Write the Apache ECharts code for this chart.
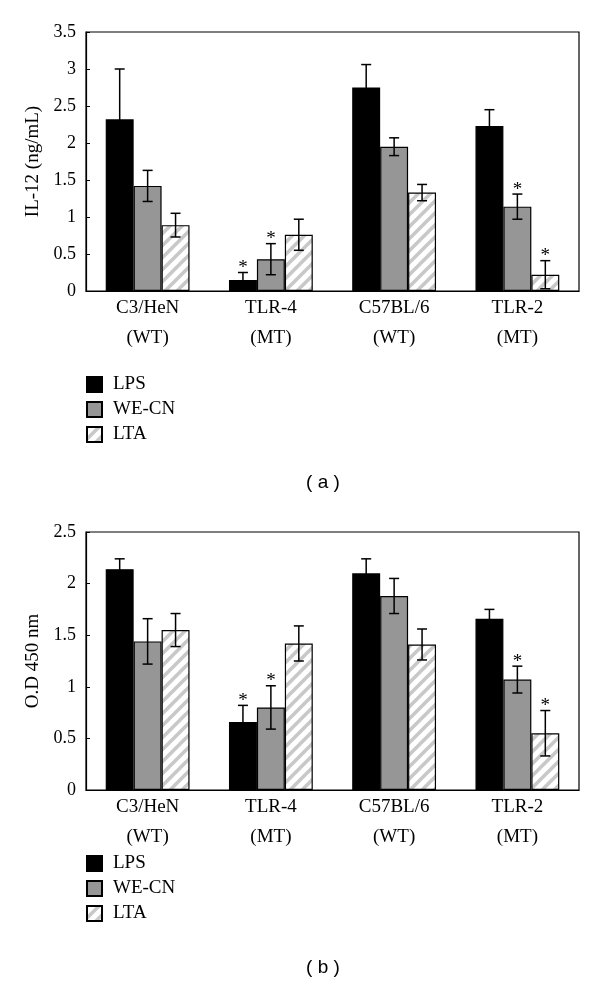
<!DOCTYPE html>
<html><head><meta charset="utf-8">
<script src="https://cdn.jsdelivr.net/npm/echarts@6/dist/echarts.min.js"></script>
<style>html,body{margin:0;padding:0;background:#fff}#c{width:600px;height:1000px}</style>
</head><body><div id="c"></div>
<script>
const categories = ['C3/HeN\n(WT)', 'TLR-4\n(MT)', 'C57BL/6\n(WT)', 'TLR-2\n(MT)'];
const seriesNames = ['LPS', 'WE-CN', 'LTA'];
// Panel (a): IL-12 (ng/mL)
const il12LPS = [2.32, 0.15, 2.75, 2.23];
const il12LPSErr = [0.68, 0.10, 0.31, 0.22];
const il12WE = [1.42, 0.43, 1.95, 1.14];
const il12WEErr = [0.21, 0.21, 0.12, 0.17];
const il12LTA = [0.89, 0.76, 1.33, 0.22];
const il12LTAErr = [0.16, 0.21, 0.11, 0.19];
const il12SigLPS = [0, 1, 0, 0];
const il12SigWE = [0, 1, 0, 1];
const il12SigLTA = [0, 0, 0, 1];
// Panel (b): O.D 450 nm
const odLPS = [2.14, 0.66, 2.10, 1.66];
const odLPSErr = [0.10, 0.16, 0.14, 0.09];
const odWE = [1.44, 0.80, 1.88, 1.07];
const odWEErr = [0.22, 0.21, 0.17, 0.13];
const odLTA = [1.55, 1.42, 1.41, 0.55];
const odLTAErr = [0.16, 0.17, 0.15, 0.22];
const odSigLPS = [0, 1, 0, 0];
const odSigWE = [0, 1, 0, 1];
const odSigLTA = [0, 0, 0, 1];

// hatch pattern
const pc = document.createElement('canvas');
pc.width = 12; pc.height = 12;
const g = pc.getContext('2d');
g.fillStyle = '#fff'; g.fillRect(0, 0, 12, 12);
g.strokeStyle = '#c8c8c8'; g.lineWidth = 3.5;
[[-6, 6, 6, -6], [0, 12, 12, 0], [6, 18, 18, 6]].forEach(function (l) {
  g.beginPath(); g.moveTo(l[0], l[1]); g.lineTo(l[2], l[3]); g.stroke();
});
const hatch = { image: pc, repeat: 'repeat' };
const fills = ['#000000', '#969696', hatch];
const GAP = 0.32;
const serif = '"Liberation Serif", "DejaVu Serif", serif';

function errData(vals, errs, sigs, k) {
  return vals.map(function (v, i) { return [i, v - errs[i], v + errs[i], sigs[i], k]; });
}
function errSeries(data, gi) {
  return {
    type: 'custom', xAxisIndex: gi, yAxisIndex: gi, silent: true, z: 10,
    data: data, encode: { x: 0, y: [1, 2] },
    renderItem: function (params, api) {
      const band = api.size([1, 0])[0];
      const bw = band * (1 - GAP) / 3;
      const k = api.value(4);
      const c = api.coord([api.value(0), 0]);
      const x = c[0] + (k - 1) * bw;
      const lo = api.coord([api.value(0), api.value(1)])[1];
      const hi = api.coord([api.value(0), api.value(2)])[1];
      const cap = 5;
      const st = { stroke: '#000', lineWidth: 1.5 };
      const children = [
        { type: 'line', shape: { x1: x, y1: lo, x2: x, y2: hi }, style: st },
        { type: 'line', shape: { x1: x - cap, y1: lo, x2: x + cap, y2: lo }, style: st },
        { type: 'line', shape: { x1: x - cap, y1: hi, x2: x + cap, y2: hi }, style: st }
      ];
      if (api.value(3)) {
        children.push({ type: 'text', style: { text: '*', x: x, y: hi + 5, align: 'center', verticalAlign: 'bottom', fill: '#000', font: '19px ' + serif } });
      }
      return { type: 'group', children: children };
    }
  };
}
function barSeries(name, vals, k, gi) {
  return {
    name: name, type: 'bar', xAxisIndex: gi, yAxisIndex: gi, data: vals,
    barGap: 0, barCategoryGap: (GAP * 100) + '%',
    itemStyle: { color: fills[k], borderColor: '#000', borderWidth: 1.2 }
  };
}
function xAx(gi) {
  return {
    type: 'category', gridIndex: gi, data: categories,
    axisLine: { lineStyle: { color: '#000', width: 1.2 } },
    axisTick: { inside: true, length: 7, lineStyle: { color: '#000' } },
    axisLabel: { color: '#000', fontFamily: serif, fontSize: 19, lineHeight: 30, margin: 2 }
  };
}
function yAx(gi, max, name) {
  return {
    type: 'value', gridIndex: gi, min: 0, max: max, interval: 0.5,
    name: name, nameLocation: 'middle', nameGap: 42,
    nameTextStyle: { color: '#000', fontFamily: serif, fontSize: 19 },
    axisLine: { show: true, lineStyle: { color: '#000', width: 1.2 } },
    axisTick: { show: true, inside: true, length: 4, lineStyle: { color: '#000' } },
    splitLine: { show: false },
    axisLabel: { color: '#000', fontFamily: serif, fontSize: 18, margin: 10 }
  };
}
function legend(top) {
  return {
    data: seriesNames, orient: 'vertical', left: 86, top: top, padding: 0,
    itemWidth: 15, itemHeight: 15, itemGap: 6, icon: 'rect', selectedMode: false,
    textStyle: { color: '#000', fontFamily: serif, fontSize: 19, padding: [0, 0, 0, 6] }
  };
}

const chart = echarts.init(document.getElementById('c'), null, { renderer: 'canvas' });
chart.setOption({
  animation: false,
  backgroundColor: '#fff',
  grid: [
    { left: 86, right: 21, top: 32, height: 259, show: true, borderColor: '#000', borderWidth: 1.2 },
    { left: 86, right: 21, top: 532, height: 258, show: true, borderColor: '#000', borderWidth: 1.2 }
  ],
  xAxis: [xAx(0), xAx(1)],
  yAxis: [yAx(0, 3.5, 'IL-12 (ng/mL)'), yAx(1, 2.5, 'O.D 450 nm')],
  legend: [legend(375), legend(854)],
  graphic: [
    { type: 'text', x: 323, y: 483, style: { text: '( a )', align: 'center', verticalAlign: 'middle', fill: '#000', font: '19px "Liberation Sans", Arial, sans-serif' } },
    { type: 'text', x: 323, y: 968, style: { text: '( b )', align: 'center', verticalAlign: 'middle', fill: '#000', font: '19px "Liberation Sans", Arial, sans-serif' } }
  ],
  series: [
    barSeries('LPS', il12LPS, 0, 0),
    barSeries('WE-CN', il12WE, 1, 0),
    barSeries('LTA', il12LTA, 2, 0),
    errSeries(errData(il12LPS, il12LPSErr, il12SigLPS, 0), 0),
    errSeries(errData(il12WE, il12WEErr, il12SigWE, 1), 0),
    errSeries(errData(il12LTA, il12LTAErr, il12SigLTA, 2), 0),
    barSeries('LPS', odLPS, 0, 1),
    barSeries('WE-CN', odWE, 1, 1),
    barSeries('LTA', odLTA, 2, 1),
    errSeries(errData(odLPS, odLPSErr, odSigLPS, 0), 1),
    errSeries(errData(odWE, odWEErr, odSigWE, 1), 1),
    errSeries(errData(odLTA, odLTAErr, odSigLTA, 2), 1)
  ]
});
</script></body></html>
